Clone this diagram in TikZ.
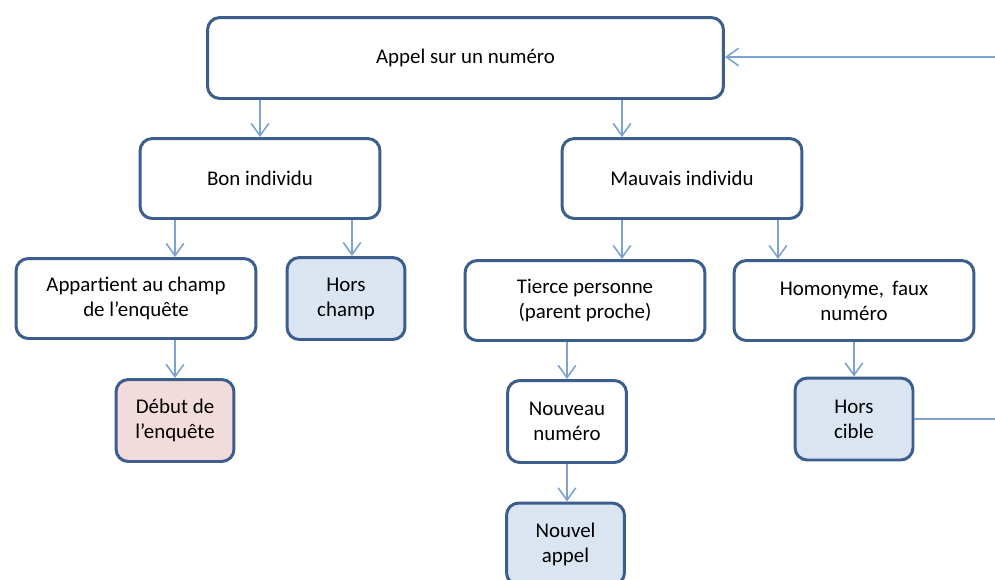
\documentclass[tikz,border=0pt]{standalone}
\usepackage{fontspec}
\setmainfont{Carlito}
\usetikzlibrary{positioning,arrows.meta}
\definecolor{boxline}{HTML}{3B5E8C}
\definecolor{arrowline}{HTML}{7DA2CF}
\definecolor{bluefill}{HTML}{DBE5F1}
\definecolor{pinkfill}{HTML}{F2DCDB}

\begin{document}
\begin{tikzpicture}[
    x=0.02cm, y=-0.02cm,
    every node/.style={font=\fontsize{11.9}{14.2}\selectfont},
    box/.style={draw=boxline, rounded corners=7pt, line width=1.7pt, align=center, fill=white, inner sep=2pt},
    boxWide/.style={box, minimum width=4.8cm, minimum height=1.6cm},
    boxSmall/.style={box, minimum width=2.36cm, minimum height=1.64cm},
    boxOut/.style={boxSmall, fill=bluefill},
    boxStart/.style={boxSmall, fill=pinkfill},
    arr/.style={-{Straight Barb[length=7pt,width=10pt]}, draw=arrowline, line width=0.9pt}
  ]
    \useasboundingbox (0,0) rectangle (995,579);
    \node[box, minimum width=10.32cm, minimum height=1.62cm] (appel) at (465.5,58) {Appel sur un numéro};
    \node[boxWide] (bon) at (260,178.5) {Bon individu};
    \node[boxWide] (mauvais) at (682,178.5) {Mauvais individu};
    \node[boxWide] (appart) at (136,298.5) {Appartient au champ\\de l’enquête};
    \node[boxOut] (horschamp) at (346,298.5) {Hors\\champ};
    \node[boxWide] (tierce) at (585,300.5) {Tierce personne\\(parent proche)};
    \node[boxWide] (homonyme) at (854,300.5) {Homonyme,\, faux\\numéro};
    \node[boxStart] (debut) at (175,420.5) {Début de\\l’enquête};
    \node[boxSmall, minimum width=2.38cm] (nouveau) at (567,421.5) {Nouveau\\numéro};
    \node[boxOut] (nouvelappel) at (565.5,544) {Nouvel\\appel};
    \node[boxOut] (horscible) at (854,419) {Hors\\cible};
    % points where the arrows leave a box off-centre
    \coordinate (splitM) at (622,0);
    \coordinate (splitH) at (352,0);
    \coordinate (splitN) at (778,0);
    \coordinate (edgeA) at (995,57);
    \coordinate (edgeB) at (995,419);
    \draw[arr] (appel.south -| bon) -- (bon.north);
    \draw[arr] (appel.south -| splitM) -- (mauvais.north -| splitM);
    \draw[arr] (bon.south -| debut) -- (appart.north -| debut);
    \draw[arr] (bon.south -| splitH) -- (horschamp.north -| splitH);
    \draw[arr] (mauvais.south -| splitM) -- (tierce.north -| splitM);
    \draw[arr] (mauvais.south -| splitN) -- (homonyme.north -| splitN);
    \draw[arr] (appart.south -| debut) -- (debut.north);
    \draw[arr] (tierce.south -| nouveau) -- (nouveau.north);
    \draw[arr] (nouveau.south) -- (nouvelappel.north -| nouveau);
    \draw[arr] (homonyme.south -| horscible) -- (horscible.north);
    \draw[draw=arrowline, line width=0.9pt] (horscible.east) -- (edgeB);
    \draw[arr] (edgeA) -- (appel.east |- edgeA);
  \end{tikzpicture}
\end{document}
